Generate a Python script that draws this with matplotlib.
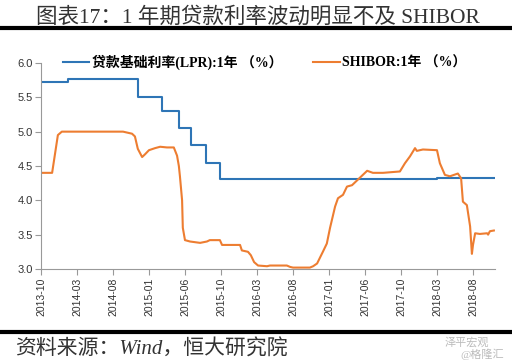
import numpy as np
import matplotlib
matplotlib.use('Agg')
import matplotlib.pyplot as plt
from matplotlib.lines import Line2D

# ---------------- DATA ----------------
tick_labels = ['2013-10', '2014-03', '2014-08', '2015-01', '2015-06', '2015-10', '2016-03',
               '2016-08', '2017-01', '2017-06', '2017-10', '2018-03', '2018-08']

# positions along the category axis (1.0 = one tick interval)
lpr_x = [0, 0.19, 0.75, 1.4, 2.0, 2.69, 3.36, 3.83, 4.17, 4.58, 4.97, 11.0, 12.58]
lpr_y = [5.72, 5.73, 5.76, 5.77, 5.76, 5.51, 5.30, 5.05, 4.80, 4.55, 4.31, 4.32, 4.32]

shibor_x = [0, 0.31, 0.47, 0.58, 1.5, 2.28, 2.53, 2.61, 2.69, 2.81, 2.89, 3.0, 3.17, 3.31,
            3.5, 3.69, 3.78, 3.83, 3.86, 3.92, 3.94, 4.0, 4.14, 4.42, 4.61, 4.69, 4.97,
            5.03, 5.53, 5.58, 5.75, 5.83, 5.92, 6.03, 6.28, 6.36, 6.83, 6.92, 7.0, 7.47,
            7.56, 7.67, 7.83, 7.94, 8.03, 8.17, 8.25, 8.39, 8.5, 8.64, 8.86, 9.06, 9.22,
            9.5, 9.97, 10.11, 10.25, 10.39, 10.44, 10.61, 11.0, 11.08, 11.22, 11.36, 11.58,
            11.67, 11.72, 11.83, 11.92, 11.97, 12.0, 12.06, 12.19, 12.39, 12.42, 12.47, 12.58]
shibor_y = [4.40, 4.40, 4.95, 5.00, 5.00, 5.00, 4.97, 4.93, 4.75, 4.63, 4.67, 4.73, 4.76, 4.78,
            4.77, 4.77, 4.65, 4.50, 4.35, 4.00, 3.60, 3.42, 3.40, 3.38, 3.40, 3.42, 3.42,
            3.35, 3.35, 3.27, 3.25, 3.20, 3.10, 3.05, 3.04, 3.05, 3.05, 3.03, 3.02, 3.02,
            3.04, 3.08, 3.25, 3.37, 3.60, 3.91, 4.03, 4.08, 4.20, 4.22, 4.33, 4.43, 4.40,
            4.40, 4.42, 4.54, 4.64, 4.76, 4.72, 4.74, 4.73, 4.54, 4.37, 4.35, 4.39,
            4.32, 3.98, 3.93, 3.62, 3.22, 3.35, 3.52, 3.51, 3.52, 3.50, 3.55, 3.56]

# ---------------- PLOT ----------------
serif_cjk = ['Liberation Serif', 'Noto Sans CJK SC']
blue = '#2E75B6'
orange = '#ED7D31'

fig = plt.figure(figsize=(5.12, 3.62), dpi=100)
ax = fig.add_axes([0.080, 0.257, 0.886, 0.569])

ax.plot(lpr_x, lpr_y, color=blue, lw=1.5, drawstyle='steps-post')
ax.plot(shibor_x, shibor_y, color=orange, lw=1.5)

ax.set_xlim(0, 12.6)
ax.set_ylim(3.0, 6.0)
ax.set_yticks(np.arange(3.0, 6.01, 0.5))
ax.set_yticklabels(['%.1f' % v for v in np.arange(3.0, 6.01, 0.5)],
                   family='Liberation Sans', fontsize=8, color='#333333')
ax.set_xticks(range(len(tick_labels)))
ax.set_xticklabels(tick_labels, rotation=90, family='Liberation Sans', fontsize=7.5, color='#333333')
ax.tick_params(axis='both', direction='out', length=4, color='#999999', width=0.8, pad=2)
for s in ['top', 'right']:
    ax.spines[s].set_visible(False)
for s in ['left', 'bottom']:
    ax.spines[s].set_color('#999999')
    ax.spines[s].set_linewidth(0.8)

# legend
handles = [Line2D([], [], color=blue, lw=1.5), Line2D([], [], color=orange, lw=1.5)]
fig.legend(handles, ['贷款基础利率(LPR):1年 （%）', 'SHIBOR:1年 （%）'],
           loc='center left', bbox_to_anchor=(0.123, 0.828), ncol=2, frameon=False,
           prop={'family': serif_cjk, 'size': 10, 'weight': 'bold'},
           handlelength=1.9, handletextpad=0.2, columnspacing=2.2, borderpad=0, borderaxespad=0)

# title and rules
fig.text(0.07, 0.953, '图表17：1 年期贷款利率波动明显不及 SHIBOR', family=serif_cjk,
         fontsize=15.5, color='#333333', va='center', ha='left')
fig.add_artist(Line2D([0.0, 1.0], [0.922, 0.922], color='black', lw=3))
fig.add_artist(Line2D([0.0, 1.0], [0.083, 0.083], color='black', lw=3))

fig.text(0.03, 0.035, '资料来源：Wind，恒大研究院', family=serif_cjk, style='italic',
         fontsize=15, color='#333333', va='center', ha='left')
fig.text(0.955, 0.055, '泽平宏观', family=serif_cjk, fontsize=8, color='#bbbbbb', ha='right', va='center')
fig.text(0.985, 0.022, '@格隆汇', family=serif_cjk, fontsize=8, color='#bbbbbb', ha='right', va='center')

plt.savefig('out.png', dpi=100)
